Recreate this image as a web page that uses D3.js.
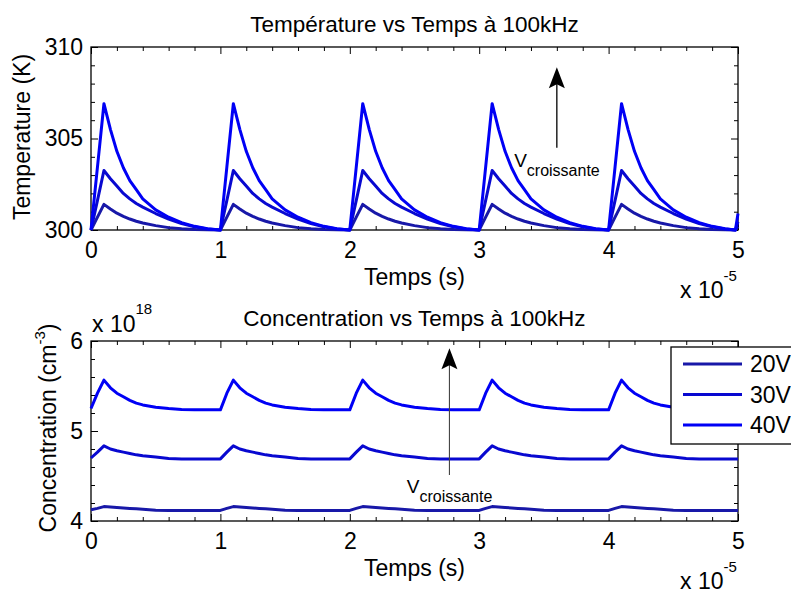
<!DOCTYPE html>
<html><head><meta charset="utf-8">
<script src="https://cdn.jsdelivr.net/npm/d3@7"></script>
<style>
body{margin:0;background:#fff}
svg text{font-family:"Liberation Sans",Arial,Helvetica,sans-serif;fill:#000}
</style>
</head><body>
<svg id="c" width="791" height="593"></svg>
<script>
// ---------- data ----------
const timeTicks = [0, 1, 2, 3, 4, 5];          // x 10^-5 s
const tempTicks = [300, 305, 310];             // K
const concTicks = [4, 5, 6];                   // x 10^18 cm^-3
const seriesNames = ["20V", "30V", "40V"];

// time samples (units of 1e-5 s)
const timeE5 = [
 0,0.05,0.1,0.15,0.2,0.25,0.3,0.35,0.4,0.5,0.6,0.7,0.8,0.9,
 1,1.05,1.1,1.15,1.2,1.25,1.3,1.35,1.4,1.5,1.6,1.7,1.8,1.9,
 2,2.05,2.1,2.15,2.2,2.25,2.3,2.35,2.4,2.5,2.6,2.7,2.8,2.9,
 3,3.05,3.1,3.15,3.2,3.25,3.3,3.35,3.4,3.5,3.6,3.7,3.8,3.9,
 4,4.05,4.1,4.15,4.2,4.25,4.3,4.35,4.4,4.5,4.6,4.7,4.8,4.9,
 4.98,5
];

const temp20V = [
 300,300.7,301.4,301.15,300.92,300.75,300.6,300.48,300.38,300.24,300.13,300.07,300.03,300.01,
 300,300.7,301.4,301.15,300.92,300.75,300.6,300.48,300.38,300.24,300.13,300.07,300.03,300.01,
 300,300.7,301.4,301.15,300.92,300.75,300.6,300.48,300.38,300.24,300.13,300.07,300.03,300.01,
 300,300.7,301.4,301.15,300.92,300.75,300.6,300.48,300.38,300.24,300.13,300.07,300.03,300.01,
 300,300.7,301.4,301.15,300.92,300.75,300.6,300.48,300.38,300.24,300.13,300.07,300.03,300.01,
 300,300.2
];
const temp30V = [
 300,301.62,303.25,302.8,302.4,302.0,301.7,301.45,301.25,300.9,300.6,300.35,300.18,300.06,
 300,301.62,303.25,302.8,302.4,302.0,301.7,301.45,301.25,300.9,300.6,300.35,300.18,300.06,
 300,301.62,303.25,302.8,302.4,302.0,301.7,301.45,301.25,300.9,300.6,300.35,300.18,300.06,
 300,301.62,303.25,302.8,302.4,302.0,301.7,301.45,301.25,300.9,300.6,300.35,300.18,300.06,
 300,301.62,303.25,302.8,302.4,302.0,301.7,301.45,301.25,300.9,300.6,300.35,300.18,300.06,
 300,300.45
];
const temp40V = [
 300,303.45,306.9,305.5,304.3,303.4,302.7,302.2,301.7,301.1,300.7,300.4,300.2,300.07,
 300,303.45,306.9,305.5,304.3,303.4,302.7,302.2,301.7,301.1,300.7,300.4,300.2,300.07,
 300,303.45,306.9,305.5,304.3,303.4,302.7,302.2,301.7,301.1,300.7,300.4,300.2,300.07,
 300,303.45,306.9,305.5,304.3,303.4,302.7,302.2,301.7,301.1,300.7,300.4,300.2,300.07,
 300,303.45,306.9,305.5,304.3,303.4,302.7,302.2,301.7,301.1,300.7,300.4,300.2,300.07,
 300,300.9
];

// concentration (units of 1e18 cm^-3)
const conc20V = [
 4.125,4.14,4.16,4.155,4.15,4.145,4.14,4.135,4.13,4.12,4.118,4.118,4.118,4.118,
 4.118,4.14,4.16,4.155,4.15,4.145,4.14,4.135,4.13,4.12,4.118,4.118,4.118,4.118,
 4.118,4.14,4.16,4.155,4.15,4.145,4.14,4.135,4.13,4.12,4.118,4.118,4.118,4.118,
 4.118,4.14,4.16,4.155,4.15,4.145,4.14,4.135,4.13,4.12,4.118,4.118,4.118,4.118,
 4.118,4.14,4.16,4.155,4.15,4.145,4.14,4.135,4.13,4.12,4.118,4.118,4.118,4.118,
 4.118,4.118
];
const conc30V = [
 4.70,4.765,4.835,4.80,4.78,4.765,4.75,4.735,4.725,4.71,4.695,4.69,4.69,4.69,
 4.69,4.765,4.835,4.80,4.78,4.765,4.75,4.735,4.725,4.71,4.695,4.69,4.69,4.69,
 4.69,4.765,4.835,4.80,4.78,4.765,4.75,4.735,4.725,4.71,4.695,4.69,4.69,4.69,
 4.69,4.765,4.835,4.80,4.78,4.765,4.75,4.735,4.725,4.71,4.695,4.69,4.69,4.69,
 4.69,4.765,4.835,4.80,4.78,4.765,4.75,4.735,4.725,4.71,4.695,4.69,4.69,4.69,
 4.69,4.69
];
const conc40V = [
 5.25,5.42,5.565,5.48,5.42,5.38,5.34,5.31,5.29,5.265,5.25,5.24,5.235,5.235,
 5.235,5.42,5.565,5.48,5.42,5.38,5.34,5.31,5.29,5.265,5.25,5.24,5.235,5.235,
 5.235,5.42,5.565,5.48,5.42,5.38,5.34,5.31,5.29,5.265,5.25,5.24,5.235,5.235,
 5.235,5.42,5.565,5.48,5.42,5.38,5.34,5.31,5.29,5.265,5.25,5.24,5.235,5.235,
 5.235,5.42,5.565,5.48,5.42,5.38,5.34,5.31,5.29,5.265,5.25,5.24,5.235,5.235,
 5.235,5.235
];

// annotation anchors in data units: [t, yFrom, yTo], text anchor [t, y]
const tempArrow = [3.6, 304.5, 308.9];
const tempArrowText = [3.27, 303.45];
const concArrow = [2.77, 4.51, 5.92];
const concArrowText = [2.44, 4.31];

// ---------- styles ----------
const seriesColors = ["#1818a8", "#0808d0", "#0000f5"];
const FS = 23;
const plotLeft = 91, plotRight = 738;

const svg = d3.select("#c");
const x = d3.scaleLinear().domain([0, 5]).range([plotLeft, plotRight]);
const minorX = d3.range(0, 5.0001, 0.2).filter(v => Math.abs(v - Math.round(v)) > 1e-6);

function drawPanel(cfg) {
  const y = d3.scaleLinear().domain(cfg.domain).range([cfg.bottom, cfg.top]);
  const g = svg.append("g");
  g.append("rect").attr("x", plotLeft).attr("y", cfg.top)
    .attr("width", plotRight - plotLeft).attr("height", cfg.bottom - cfg.top)
    .attr("fill", "#fff").attr("stroke", "#000").attr("stroke-width", 1.3);

  const minorY = d3.range(cfg.domain[0], cfg.domain[1] + 1e-6, cfg.minorStep)
    .filter(v => !cfg.ticks.some(t => Math.abs(t - v) < 1e-6));

  function ax(gen, tr, size, labels) {
    const a = g.append("g").attr("transform", tr).call(gen.tickSize(-size).tickSizeOuter(0));
    a.select(".domain").remove();
    a.attr("color", "#000").attr("font-size", FS);
    a.selectAll("line").attr("stroke-width", 1);
    if (!labels) a.selectAll("text").remove();
    return a;
  }
  ax(d3.axisBottom(x).tickValues(timeTicks).tickFormat(d3.format("d")).tickPadding(11.5), `translate(0,${cfg.bottom})`, 7, true);
  ax(d3.axisBottom(x).tickValues(minorX).tickFormat(""), `translate(0,${cfg.bottom})`, 4, false);
  ax(d3.axisTop(x).tickValues(timeTicks).tickFormat(""), `translate(0,${cfg.top})`, 7, false);
  ax(d3.axisTop(x).tickValues(minorX).tickFormat(""), `translate(0,${cfg.top})`, 4, false);
  ax(d3.axisLeft(y).tickValues(cfg.ticks).tickFormat(d3.format("d")).tickPadding(8), `translate(${plotLeft},0)`, 7, true);
  ax(d3.axisLeft(y).tickValues(minorY).tickFormat(""), `translate(${plotLeft},0)`, 4, false);
  ax(d3.axisRight(y).tickValues(cfg.ticks).tickFormat(""), `translate(${plotRight},0)`, 7, false);
  ax(d3.axisRight(y).tickValues(minorY).tickFormat(""), `translate(${plotRight},0)`, 4, false);

  const line = d3.line().x((d, i) => x(timeE5[i])).y(d => y(d));
  cfg.series.forEach((s, k) => {
    g.append("path").attr("d", line(s)).attr("fill", "none")
      .attr("stroke", seriesColors[k]).attr("stroke-width", 3)
      .attr("stroke-linejoin", "round");
  });

  g.append("text").attr("x", (plotLeft + plotRight) / 2).attr("y", cfg.top - 15)
    .attr("text-anchor", "middle").attr("font-size", 22.5).text(cfg.title);
  g.append("text").attr("x", (plotLeft + plotRight) / 2).attr("y", cfg.bottom + 55)
    .attr("text-anchor", "middle").attr("font-size", FS).text("Temps (s)");
  const m = g.append("text").attr("x", 680).attr("y", cfg.bottom + 68).attr("font-size", FS);
  m.append("tspan").text("x 10");
  m.append("tspan").attr("dy", -17).attr("font-size", 15).text("-5");

  const [at, a0, a1] = cfg.arrow;
  const ax0 = x(at), ay0 = y(a0), ay1 = y(a1);
  g.append("line").attr("x1", ax0).attr("x2", ax0).attr("y1", ay0).attr("y2", ay1 + 12)
    .attr("stroke", cfg.arrowColor).attr("stroke-width", cfg.arrowWidth);
  g.append("path").attr("d", `M${ax0},${ay1} L${ax0 - 8},${ay1 + 21} L${ax0},${ay1 + 17} L${ax0 + 8},${ay1 + 21} Z`)
    .attr("fill", "#000");
  const vt = g.append("text").attr("x", x(cfg.arrowText[0])).attr("y", y(cfg.arrowText[1])).attr("font-size", 19);
  vt.append("tspan").text("V");
  vt.append("tspan").attr("dy", 9).attr("font-size", 16).text("croissante");
  return { g, y };
}

const panelTemp = drawPanel({
  top: 47, bottom: 230, domain: [300, 310], ticks: tempTicks, minorStep: 1,
  series: [temp20V, temp30V, temp40V], title: "Température vs Temps à 100kHz",
  arrow: tempArrow, arrowText: tempArrowText, arrowColor: "#000", arrowWidth: 1.3
});
svg.append("text").attr("transform", "translate(30,137) rotate(-90)")
  .attr("text-anchor", "middle").attr("font-size", FS).text("Temperature (K)");

const panelConc = drawPanel({
  top: 341, bottom: 521, domain: [4, 6], ticks: concTicks, minorStep: 0.2,
  series: [conc20V, conc30V, conc40V], title: "Concentration vs Temps à 100kHz",
  arrow: concArrow, arrowText: concArrowText, arrowColor: "#444", arrowWidth: 1.1
});
const yl = svg.append("text").attr("transform", "translate(56,428) rotate(-90)")
  .attr("text-anchor", "middle").attr("font-size", FS);
yl.append("tspan").text("Concentration (cm");
yl.append("tspan").attr("dy", -11).attr("font-size", 15).text("-3");
yl.append("tspan").attr("dy", 11).text(")");

const e18 = svg.append("text").attr("x", 92).attr("y", 332).attr("font-size", FS);
e18.append("tspan").text("x 10");
e18.append("tspan").attr("dy", -18).attr("font-size", 15).text("18");

const lg = svg.append("g");
lg.append("rect").attr("x", 671).attr("y", 347).attr("width", 140).attr("height", 97)
  .attr("fill", "#fff").attr("stroke", "#000").attr("stroke-width", 1.3);
seriesNames.forEach((n, k) => {
  const ly = 364 + k * 30.5;
  lg.append("line").attr("x1", 683).attr("x2", 742).attr("y1", ly).attr("y2", ly)
    .attr("stroke", seriesColors[k]).attr("stroke-width", 3);
  lg.append("text").attr("x", 750).attr("y", ly + 8).attr("font-size", FS).text(n);
});
</script>
</body></html>
